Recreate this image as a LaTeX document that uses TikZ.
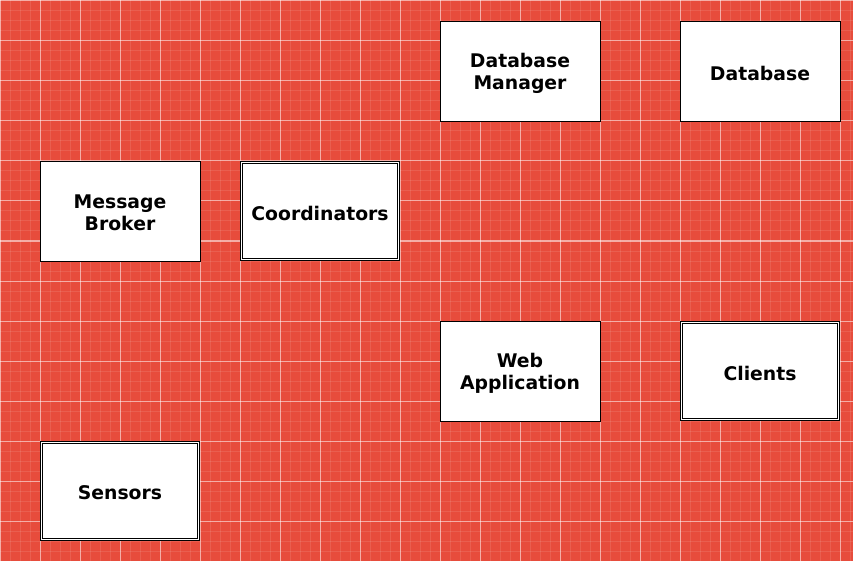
\documentclass[tikz,border=0pt]{standalone}
\usepackage{fontspec}
\setsansfont{DejaVu Sans}
\definecolor{bgred}{HTML}{E74C3C}
\begin{document}
\begin{tikzpicture}[x=1pt,y=-1pt,
  minorline/.style={white,opacity=0.1,line width=1pt},
  majorline/.style={white,opacity=0.5,line width=1pt},
  labtext/.style={align=center,inner sep=0pt,yshift=-2pt,font=\sffamily\bfseries\fontsize{18.8}{22}\selectfont},
  box/.style={draw=black,fill=white,line width=0.8pt,minimum width=160pt,minimum height=100pt,inner sep=0pt},
  dbox/.style={box,double,double distance=1.5pt,minimum width=157pt,minimum height=97pt}]
\fill[bgred] (0,0) rectangle (853,561);
\useasboundingbox (0,0) rectangle (853,561);
\foreach \i in {0,...,85} {\draw[minorline] (\i*10+0.5,0) -- (\i*10+0.5,561);}
\foreach \j in {0,...,56} {\draw[minorline] (0,\j*10+1) -- (853,\j*10+1);}
\foreach \i in {0,...,21} {\draw[majorline] (\i*40+0.5,0) -- (\i*40+0.5,561);}
\foreach \j in {0,...,14} {\draw[majorline] (0,\j*40+1) -- (853,\j*40+1);}
\node[box,label={[labtext]center:{Message\\Broker}}]  (broker) at (120,211) {};
\node[dbox,label={[labtext]center:{Coordinators}}] (coord)  at (320,211) {};
\node[box,label={[labtext]center:{Database\\Manager}}]  (dbm)    at (520,71)  {};
\node[box,label={[labtext]center:{Database}}]  (db)     at (760,71)  {};
\node[box,label={[labtext]center:{Web\\Application}}]  (web)    at (520,371) {};
\node[dbox,label={[labtext]center:{Clients}}] (clients) at (760,371) {};
\node[dbox,label={[labtext]center:{Sensors}}] (sensors) at (120,491) {};
\end{tikzpicture}
\end{document}
